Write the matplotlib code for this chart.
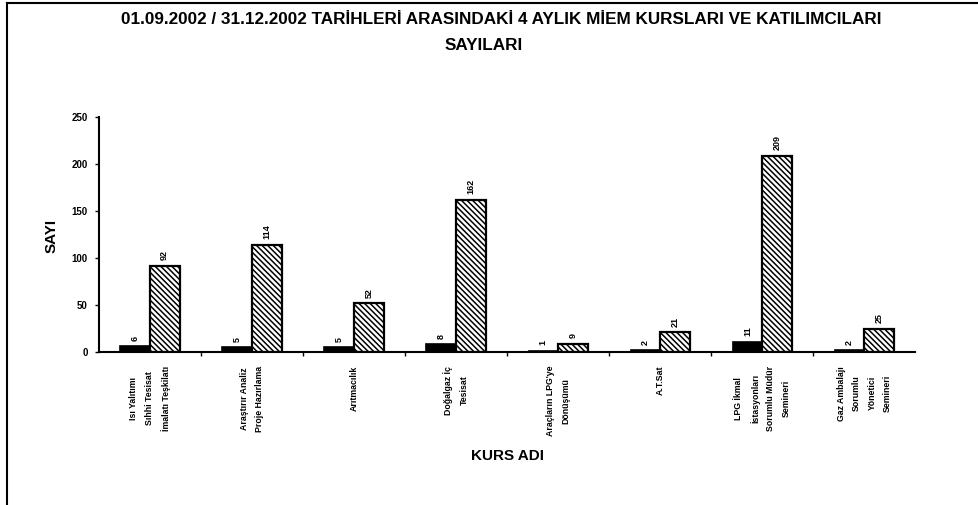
"""
MIEM kurs sayilari ve katilimcilari (01.09.2002 - 31.12.2002)
"""
import matplotlib
matplotlib.use("Agg")
import matplotlib.pyplot as plt
from matplotlib.lines import Line2D
import numpy as np

plt.rcParams['font.family'] = ['Liberation Sans', 'DejaVu Sans']
plt.rcParams['hatch.linewidth'] = 1.1

# Data
courses = [
    "Isı Yalıtımı\nSıhhi Tesisat\nİmalatı Teşkilatı",
    "Araştırır Analiz\nProje Hazırlama",
    "Arıtmacılık",
    "Doğalgaz İç\nTesisat",
    "Araçların LPG'ye\nDönüşümü",
    "A.T.Sat",
    "LPG İkmal\nİstasyonları\nSorumlu Müdür\nSemineri",
    "Gaz Ambalajı\nSorumlu\nYönetici\nSemineri",
]
kurs_sayisi = [6, 5, 5, 8, 1, 2, 11, 2]
katilimci = [92, 114, 52, 162, 9, 21, 209, 25]

fig = plt.figure(figsize=(9.79, 5.05), dpi=100)
ax = fig.add_axes([0.101, 0.303, 0.834, 0.465])

x = np.arange(len(courses))
w = 0.29
b1 = ax.bar(x - w / 2, kurs_sayisi, w, color="black", edgecolor="black",
            linewidth=1.2)
b2 = ax.bar(x + w / 2, katilimci, w, color="white", edgecolor="black",
            hatch="\\\\\\\\\\\\", linewidth=1.6)

# value labels, rotated like the original
for bars, vals in ((b1, kurs_sayisi), (b2, katilimci)):
    for bar, v in zip(bars, vals):
        ax.annotate(str(v), (bar.get_x() + bar.get_width() / 2, v),
                    xytext=(0, 4), textcoords="offset points",
                    rotation=90, ha="center", va="bottom",
                    fontsize=6.5, fontweight="bold")

ax.set_xlim(-0.5, len(courses) - 0.5)
ax.set_ylim(0, 250)
ax.set_yticks(range(0, 251, 50))
ax.set_xticks(x)
ax.set_xticklabels(courses, rotation=90, va="top", ha="center",
                   multialignment="center", linespacing=1.9,
                   fontsize=6.3, fontweight="bold")
ax.set_xticks(np.arange(0.5, len(courses) - 0.5, 1), minor=True)
ax.tick_params(axis="x", which="major", length=0, pad=10)
ax.tick_params(axis="x", which="minor", length=3, width=1, direction="out")
ax.tick_params(axis="y", length=3, width=1, labelsize=7, pad=5)
for lab in ax.get_yticklabels():
    lab.set_fontweight("bold")

for side in ("top", "right"):
    ax.spines[side].set_visible(False)
for side in ("left", "bottom"):
    ax.spines[side].set_linewidth(1.5)

fig.text(0.053, 0.532, "SAYI", rotation=90, ha="center", va="center",
         fontsize=11, fontweight="bold")
fig.text(0.518, 0.097, "KURS ADI", ha="center", va="center",
         fontsize=11, fontweight="bold")

fig.text(0.512, 0.962,
         "01.09.2002 / 31.12.2002 TARİHLERİ ARASINDAKİ 4 AYLIK MİEM "
         "KURSLARI VE KATILIMCILARI",
         ha="center", va="center", fontsize=12.3, fontweight="bold")
fig.text(0.494, 0.909, "SAYILARI", ha="center", va="center",
         fontsize=12.3, fontweight="bold")

# frame lines of the scanned page
fig.add_artist(Line2D([7 / 979, 1], [1 - 3 / 505, 1 - 3 / 505],
                      color="black", lw=1.5))
fig.add_artist(Line2D([7 / 979, 7 / 979], [0, 1 - 3 / 505],
                      color="black", lw=1.5))

fig.savefig("out.png", dpi=100)
